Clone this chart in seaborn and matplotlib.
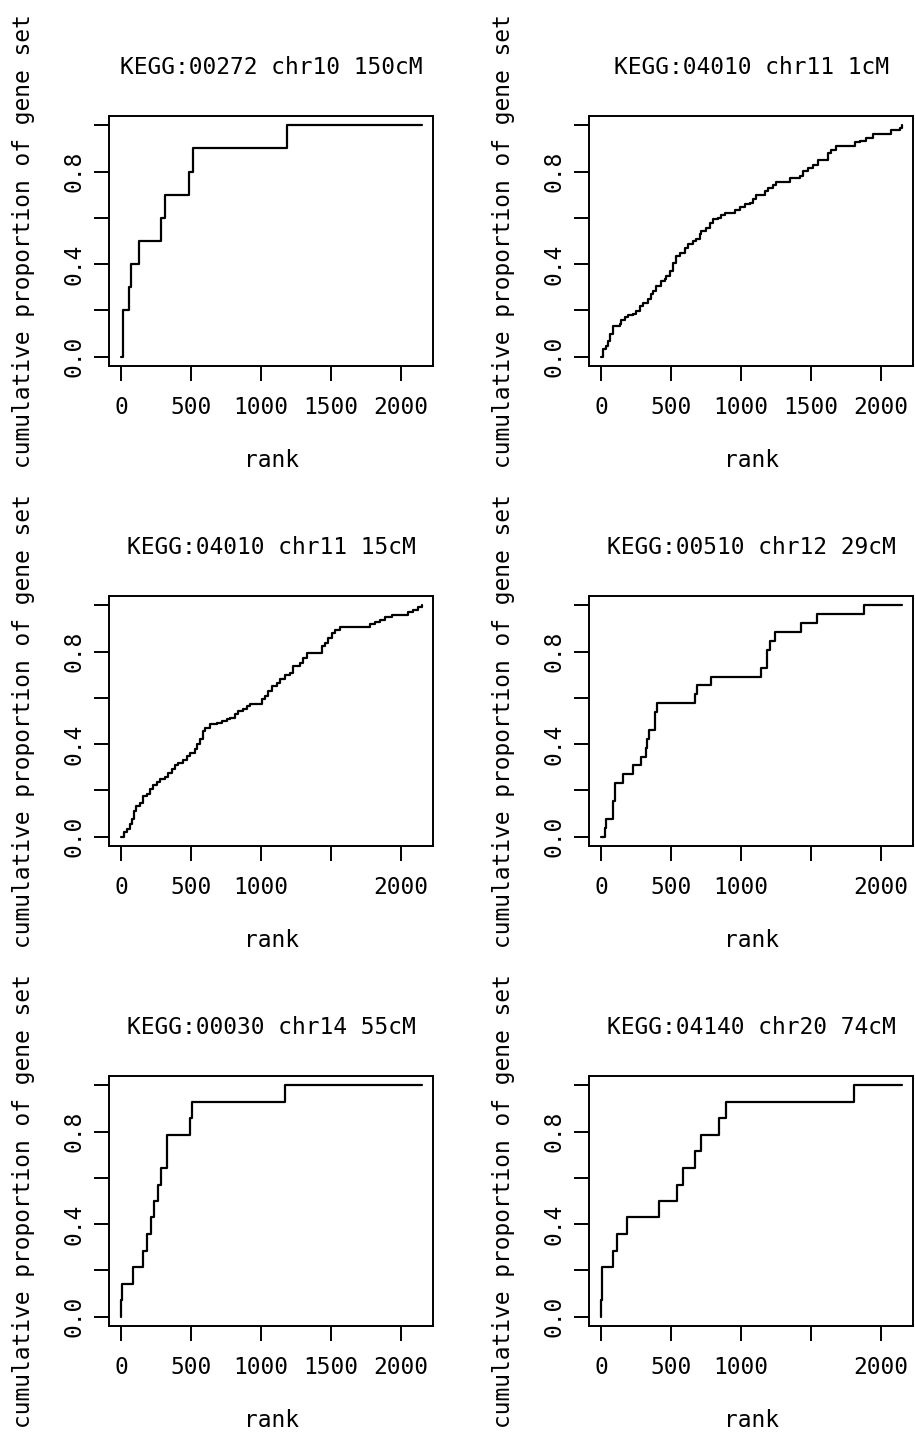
import matplotlib
matplotlib.use("Agg")
import matplotlib.pyplot as plt
import seaborn as sns

# ---------------- data ----------------
titles = [
    "KEGG:00272 chr10 150cM",
    "KEGG:04010 chr11 1cM",
    "KEGG:04010 chr11 15cM",
    "KEGG:00510 chr12 29cM",
    "KEGG:00030 chr14 55cM",
    "KEGG:04140 chr20 74cM",
]

p1_rank = [0, 14, 60, 69, 131, 283, 317, 486, 517, 1188, 2148]
p1_prop = [0.0, 0.2, 0.3, 0.4, 0.5, 0.6, 0.7, 0.8, 0.9, 1.0, 1.0]

p2_rank = [0, 14, 38, 50, 62, 86, 134, 146, 169, 193, 229, 253, 276, 300, 336, 360,
           371, 396, 431, 455, 467, 491, 514, 538, 562, 598, 621, 657, 681, 705, 717,
           753, 776, 800, 836, 860, 883, 955, 991, 1026, 1062, 1086, 1110, 1169, 1193,
           1229, 1253, 1348, 1419, 1443, 1479, 1514, 1550, 1598, 1622, 1646, 1681,
           1812, 1848, 1895, 1943, 2074, 2134, 2153]
p2_prop = [0.0, 0.033, 0.047, 0.069, 0.098, 0.134, 0.141, 0.158, 0.170, 0.181, 0.184,
           0.198, 0.220, 0.234, 0.249, 0.270, 0.284, 0.306, 0.328, 0.335, 0.349, 0.371,
           0.407, 0.435, 0.450, 0.471, 0.486, 0.500, 0.507, 0.529, 0.543, 0.557, 0.579,
           0.593, 0.600, 0.612, 0.622, 0.636, 0.647, 0.658, 0.665, 0.680, 0.698, 0.716,
           0.730, 0.744, 0.756, 0.773, 0.780, 0.802, 0.816, 0.830, 0.848, 0.852, 0.881,
           0.895, 0.909, 0.928, 0.934, 0.945, 0.963, 0.981, 0.988, 1.0]

p3_rank = [0, 24, 40, 64, 76, 93, 107, 136, 160, 183, 207, 231, 255, 279, 314, 338,
           362, 386, 410, 445, 469, 493, 529, 545, 564, 583, 600, 636, 683, 719, 755,
           779, 814, 838, 874, 898, 921, 1005, 1029, 1052, 1076, 1112, 1136, 1171, 1207,
           1231, 1279, 1302, 1326, 1433, 1457, 1476, 1505, 1529, 1564, 1779, 1814, 1850,
           1886, 1933, 2052, 2088, 2124, 2148]
p3_prop = [0.0, 0.019, 0.033, 0.055, 0.076, 0.112, 0.134, 0.144, 0.177, 0.184, 0.205,
           0.224, 0.238, 0.249, 0.259, 0.277, 0.292, 0.310, 0.320, 0.330, 0.349, 0.363,
           0.378, 0.399, 0.421, 0.457, 0.471, 0.486, 0.493, 0.500, 0.507, 0.514, 0.529,
           0.543, 0.550, 0.565, 0.575, 0.593, 0.608, 0.629, 0.651, 0.665, 0.680, 0.698,
           0.708, 0.737, 0.751, 0.773, 0.794, 0.823, 0.838, 0.859, 0.881, 0.895, 0.905,
           0.921, 0.928, 0.938, 0.950, 0.957, 0.971, 0.981, 0.991, 1.0]

p4_rank = [0, 26, 38, 86, 98, 157, 229, 283, 319, 329, 343, 388, 400, 674, 686, 788,
           1145, 1186, 1210, 1240, 1431, 1545, 1876, 2150]
p4_prop = [0.0, 0.038, 0.077, 0.154, 0.231, 0.269, 0.308, 0.346, 0.385, 0.423, 0.462,
           0.538, 0.577, 0.615, 0.654, 0.692, 0.731, 0.808, 0.846, 0.885, 0.923, 0.962,
           1.0, 1.0]

p5_rank = [0, 0, 10, 83, 160, 183, 214, 238, 267, 283, 331, 493, 510, 1171, 2148]
p5_prop = [0.0, 0.071, 0.143, 0.214, 0.286, 0.357, 0.429, 0.500, 0.571, 0.643, 0.786,
           0.857, 0.929, 1.0, 1.0]

p6_rank = [0, 0, 10, 86, 114, 188, 414, 543, 586, 674, 717, 843, 895, 1805, 2150]
p6_prop = [0.0, 0.071, 0.214, 0.286, 0.357, 0.429, 0.500, 0.571, 0.643, 0.714, 0.786,
           0.857, 0.929, 1.0, 1.0]

x_ticks = [0, 500, 1000, 1500, 2000]
xlab_full = ["0", "500", "1000", "1500", "2000"]
xlab_short = ["0", "500", "1000", "", "2000"]
panel_xlabels = [xlab_full, xlab_full, xlab_short, xlab_short, xlab_full, xlab_short]
y_ticks = [0.0, 0.2, 0.4, 0.6, 0.8, 1.0]
y_ticklabels = ["0.0", "", "0.4", "", "0.8", ""]

ranks = [p1_rank, p2_rank, p3_rank, p4_rank, p5_rank, p6_rank]
props = [p1_prop, p2_prop, p3_prop, p4_prop, p5_prop, p6_prop]

# ---------------- drawing ----------------
sns.set_style("ticks")
plt.rcParams["font.family"] = ["DejaVu Sans Mono", "DejaVu Sans"]
FS = 16.5

W, H = 915, 1435
fig = plt.figure(figsize=(W / 100, H / 100), dpi=100)
lefts = [109, 589]
tops = [116, 596, 1076]
aw, ah = 324, 250

for i in range(6):
    r, c = divmod(i, 2)
    ax = fig.add_axes([lefts[c] / W, 1 - (tops[r] + ah) / H, aw / W, ah / H])
    sns.lineplot(x=ranks[i], y=props[i], ax=ax, estimator=None, sort=False,
                 drawstyle="steps-post", color="black", linewidth=1.6)
    ax.set_xlim(-86, 2229)
    ax.set_ylim(-0.04, 1.04)
    ax.set_xticks(x_ticks)
    ax.set_xticklabels(panel_xlabels[i])
    ax.set_yticks(y_ticks)
    ax.set_yticklabels(y_ticklabels, rotation=90, va="center")
    ax.tick_params(direction="out", length=10.8, width=1.4, labelsize=FS,
                   color="black", labelcolor="black")
    ax.tick_params(axis="x", pad=11)
    ax.tick_params(axis="y", pad=6)
    for s in ax.spines.values():
        s.set_visible(True)
        s.set_linewidth(1.4)
        s.set_color("black")
    ax.set_title(titles[i], fontsize=FS, pad=30, color="black")
    ax.set_xlabel("rank", fontsize=FS, color="black")
    ax.xaxis.set_label_coords(0.5, -0.332)
    ax.set_ylabel("cumulative proportion of gene set", fontsize=FS, color="black")
    ax.yaxis.set_label_coords(-0.228, 0.5)

fig.savefig("out.png", dpi=100)
